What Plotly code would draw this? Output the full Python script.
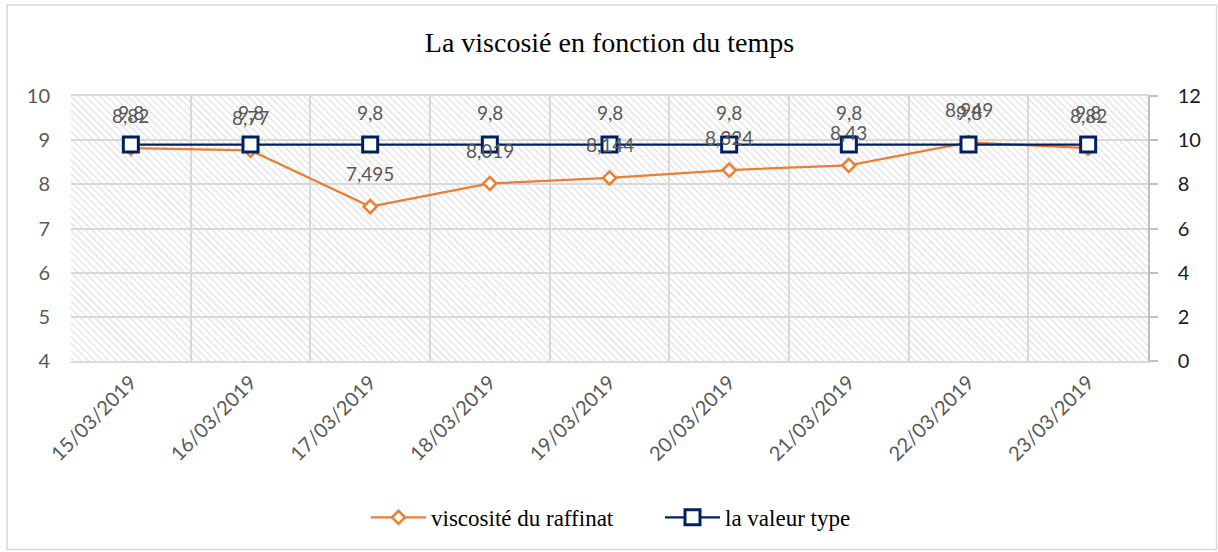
import plotly.graph_objects as go

dates = ["15/03/2019", "16/03/2019", "17/03/2019", "18/03/2019", "19/03/2019",
         "20/03/2019", "21/03/2019", "22/03/2019", "23/03/2019"]
viscosite = [8.82, 8.77, 7.495, 8.019, 8.144, 8.324, 8.43, 8.949, 8.82]
valeur_type = [9.8, 9.8, 9.8, 9.8, 9.8, 9.8, 9.8, 9.8, 9.8]

Y1_MIN, Y1_MAX = 4, 10
Y2_MIN, Y2_MAX = 0, 12

title = "La viscosié en fonction du temps"
name1 = "viscosité du raffinat"
name2 = "la valeur type"

ORANGE = "#ED7D31"
NAVY = "#002060"
GRID = "#d9d9d9"
TXT = "#595959"
SANS = "Lato, 'Open Sans', sans-serif"
SERIF = "'Liberation Serif', 'Times New Roman', serif"

def fmt(v):
    return ("%g" % v).replace(".", ",")

fig = go.Figure()

# hatched plot-area background (built from the axis range)
fig.add_trace(go.Bar(
    x=dates, y=[Y1_MAX - Y1_MIN] * len(dates), base=Y1_MIN, width=1,
    marker=dict(color="#d6d6d6", line_width=0,
                pattern=dict(shape="\\", size=5, solidity=0.18, fillmode="replace")),
    hoverinfo="skip", showlegend=False, yaxis="y"))

fig.add_trace(go.Scatter(
    x=dates, y=viscosite, name=name1, mode="lines+markers", yaxis="y",
    line=dict(color=ORANGE, width=2.25),
    marker=dict(symbol="diamond", size=10, color="white",
                line=dict(color=ORANGE, width=2.5))))

fig.add_trace(go.Scatter(
    x=dates, y=valeur_type, name=name2, mode="lines+markers", yaxis="y2",
    line=dict(color=NAVY, width=2.25),
    marker=dict(symbol="square", size=15, color="white",
                line=dict(color=NAVY, width=3))))

annotations = []
for d, v in zip(dates, viscosite):
    annotations.append(dict(x=d, y=v, xref="x", yref="y", text=fmt(v), showarrow=False,
                            yshift=33, yanchor="middle",
                            font=dict(family=SANS, size=19, color=TXT)))
for d, v in zip(dates, valeur_type):
    annotations.append(dict(x=d, y=v, xref="x", yref="y2", text=fmt(v), showarrow=False,
                            yshift=32, yanchor="middle",
                            font=dict(family=SANS, size=19, color=TXT)))

fig.update_layout(
    width=1218, height=552,
    margin=dict(l=71, r=70, t=96, b=191),
    paper_bgcolor="white", plot_bgcolor="white",
    barmode="overlay",
    title=dict(text=title, x=0.5, xref="paper", xanchor="center",
               y=1 - 42 / 552, yanchor="middle",
               font=dict(family=SERIF, size=28, color="black")),
    xaxis=dict(type="category", range=[-0.5, len(dates) - 0.5], tickson="boundaries",
               showgrid=True, gridcolor=GRID, gridwidth=1.5, ticks="",
               showline=True, linecolor=GRID, linewidth=1.5, mirror=True,
               tickangle=-45, tickfont=dict(family=SANS, size=20, color=TXT)),
    yaxis=dict(range=[Y1_MIN, Y1_MAX], dtick=1, showgrid=True, gridcolor=GRID, gridwidth=1.5,
               zeroline=False, showline=False, ticks="", ticklabelstandoff=20,
               tickfont=dict(family=SANS, size=20, color=TXT)),
    yaxis2=dict(range=[Y2_MIN, Y2_MAX], dtick=2, overlaying="y", side="right",
                showgrid=False, zeroline=False, showline=True, linecolor="#bfbfbf", linewidth=1.5,
                ticks="outside", ticklen=8, tickcolor="#bfbfbf", tickwidth=1.5,
                ticklabelstandoff=16,
                tickfont=dict(family=SANS, size=20, color="#1a1a1a")),
    legend=dict(orientation="h", x=(366 - 71) / 1077, xanchor="left", y=-0.59, yanchor="middle",
                font=dict(family=SERIF, size=23, color="black"), entrywidth=224, itemwidth=55,
                bgcolor="rgba(0,0,0,0)"),
    annotations=annotations,
    shapes=[dict(type="rect", xref="paper", yref="paper",
                 x0=(7 - 71) / 1077, x1=(1216.5 - 71) / 1077,
                 y0=(361 - 549.5) / 265, y1=(361 - 5) / 265,
                 line=dict(color=GRID, width=1.5), fillcolor="rgba(0,0,0,0)", layer="below")],
)

fig.write_html("out.html", config={"displayModeBar": False},
               post_script="document.body.style.margin='0';document.body.style.overflow='hidden';")
